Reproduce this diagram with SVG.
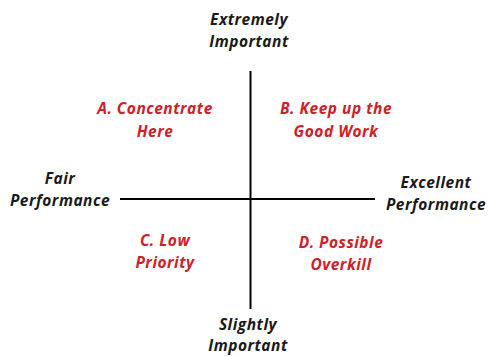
<svg xmlns="http://www.w3.org/2000/svg" width="488" height="356" viewBox="0 0 488 356">
<style>
text{font-family:"Open Sans",Lato,"Liberation Sans",sans-serif;font-weight:bold;font-style:italic;font-size:15.5px;letter-spacing:0.5px;text-anchor:middle}
.k{fill:#1a1a1a}
.r{fill:#CC2229}
.ax{stroke:#000;stroke-width:2;fill:none}
</style>
<rect width="488" height="356" fill="#fff"/>
<g id="connectors">
<line class="ax" x1="250.5" y1="71" x2="250.5" y2="309"/>
<line class="ax" x1="120" y1="199" x2="375" y2="199"/>
</g>
<g id="top"><text class="k" x="249" y="25">Extremely</text><text class="k" x="249" y="47">Important</text></g>
<g id="qa"><text class="r" x="155" y="114">A. Concentrate</text><text class="r" x="155" y="137">Here</text></g>
<g id="qb"><text class="r" x="336" y="114">B. Keep up the</text><text class="r" x="336" y="137">Good Work</text></g>
<g id="left"><text class="k" x="60" y="184">Fair</text><text class="k" x="60" y="206">Performance</text></g>
<g id="right"><text class="k" x="436" y="188">Excellent</text><text class="k" x="436" y="210">Performance</text></g>
<g id="qc"><text class="r" x="165" y="246">C. Low</text><text class="r" x="165" y="268">Priority</text></g>
<g id="qd"><text class="r" x="341" y="248">D. Possible</text><text class="r" x="341" y="270">Overkill</text></g>
<g id="bottom"><text class="k" x="248" y="330">Slightly</text><text class="k" x="248" y="351">Important</text></g>
</svg>
